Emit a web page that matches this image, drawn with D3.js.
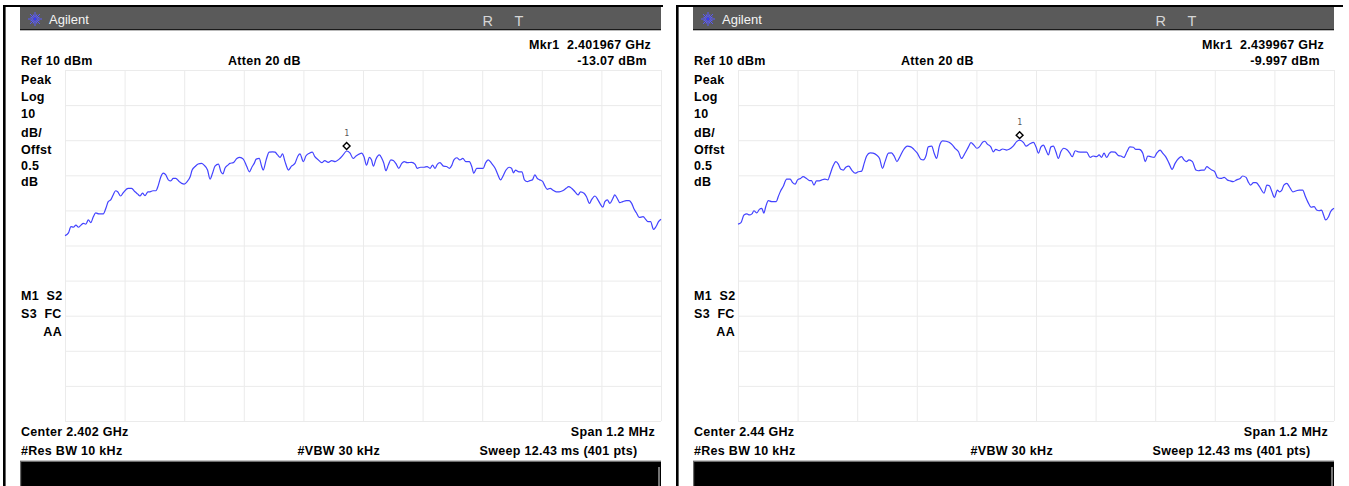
<!DOCTYPE html>
<html>
<head>
<meta charset="utf-8">
<script src="https://cdn.jsdelivr.net/npm/d3@7"></script>
<style>
  html, body { margin: 0; padding: 0; background: #fff; }
  svg { display: block; }
  text { font-family: "Liberation Sans", Arial, sans-serif; }
</style>
</head>
<body>
<svg id="chart" width="1349" height="486"></svg>
<script>
// ---- Analyzer settings for the two sweeps ----
const centerGHz = [2.402, 2.44];
const centerLabels = ["Center 2.402 GHz", "Center 2.44 GHz"];
const spanMHz = 1.2;
const refLevelDbm = 10;
const dbPerDiv = 10;
const divisions = 10;
const markerOffsetKHz = [-33, -33];
const markerLevelDbm = [-13.07, -9.997];
const markerFreqLabels = ["Mkr1\u00a0 2.401967 GHz", "Mkr1\u00a0 2.439967 GHz"];
const markerLevelLabels = ["-13.07 dBm", "-9.997 dBm"];
const leftLabels = ["Peak", "Log", "10", "dB/", "Offst", "0.5", "dB"];
const statusLabels = ["M1  S2", "S3  FC"];

// ---- Measured traces: [offset from center in kHz, level in dBm] ----
const traceLow = [
  [-600,-37.2],[-593,-36.4],[-588,-34.6],[-583,-34.8],[-578,-34.2],[-573,-34.8],[-568,-34.2],[-563,-33.7],
  [-558,-33.9],[-553,-32.7],[-548,-33.5],[-543,-31.8],[-538,-30.7],[-532,-31.0],[-523,-31.0],[-517,-29.1],
  [-513,-27.5],[-508,-27.0],[-503,-25.6],[-498,-24.4],[-494,-24.7],[-488,-25.9],[-483,-25.0],[-473,-23.7],
  [-466,-23.7],[-459,-24.7],[-454,-25.3],[-449,-25.9],[-444,-25.1],[-439,-25.8],[-433,-24.7],[-429,-24.7],
  [-423,-24.4],[-417,-24.4],[-412,-22.8],[-407,-20.4],[-402,-19.4],[-397,-19.9],[-392,-21.3],[-387,-21.6],
  [-382,-20.9],[-377,-20.9],[-370,-21.8],[-365,-22.3],[-360,-22.5],[-354,-21.8],[-348,-20.4],[-344,-18.5],
  [-338,-17.5],[-332,-16.8],[-325,-16.6],[-320,-17.1],[-313,-18.5],[-308,-21.1],[-303,-19.4],[-298,-17.4],
  [-291,-16.8],[-286,-19.0],[-282,-19.6],[-278,-18.0],[-272,-17.1],[-268,-16.6],[-261,-16.4],[-254,-15.2],
  [-248,-14.9],[-241,-15.4],[-234,-17.5],[-229,-19.0],[-223,-17.5],[-219,-16.6],[-215,-15.4],[-209,-15.2],
  [-204,-17.5],[-201,-18.5],[-195,-15.6],[-189,-13.4],[-182,-13.3],[-177,-13.4],[-172,-14.2],[-167,-14.9],
  [-162,-13.9],[-157,-16.1],[-150,-18.5],[-144,-17.4],[-137,-16.6],[-131,-14.5],[-127,-13.9],[-120,-16.1],
  [-115,-14.5],[-108,-13.7],[-102,-13.4],[-97,-14.7],[-90,-15.6],[-83,-16.4],[-77,-15.8],[-70,-16.3],
  [-63,-15.8],[-56,-16.1],[-48,-15.4],[-40,-14.2],[-33,-13.07],[-26,-13.7],[-20,-15.2],[-14,-14.5],
  [-7,-13.9],[-3,-13.7],[2,-14.7],[7,-17.1],[13,-14.9],[17,-15.6],[21,-17.4],[26,-15.4],
  [33,-14.2],[38,-15.2],[42,-16.6],[46,-18.7],[51,-17.1],[56,-15.6],[61,-15.8],[66,-16.6],
  [72,-18.0],[78,-16.6],[83,-16.1],[89,-16.4],[98,-16.3],[105,-16.9],[109,-18.0],[116,-17.7],
  [123,-17.7],[129,-17.5],[135,-18.0],[140,-17.1],[145,-18.0],[150,-16.8],[155,-16.4],[162,-17.4],
  [168,-17.5],[174,-18.0],[179,-17.1],[183,-15.6],[189,-15.0],[195,-15.6],[201,-15.2],[207,-16.1],
  [214,-16.1],[219,-17.5],[223,-19.4],[229,-18.0],[236,-18.0],[242,-18.0],[247,-16.4],[252,-15.6],
  [259,-16.6],[266,-18.0],[271,-19.6],[277,-21.3],[283,-19.9],[288,-18.5],[294,-17.7],[299,-18.0],
  [303,-19.3],[307,-18.5],[314,-19.0],[320,-19.0],[325,-21.3],[331,-21.8],[336,-21.5],[341,-21.3],
  [346,-19.9],[351,-20.9],[356,-21.3],[362,-21.8],[366,-23.0],[371,-24.0],[377,-23.7],[382,-24.2],
  [389,-24.7],[395,-24.7],[402,-24.4],[409,-23.7],[414,-23.2],[420,-23.7],[427,-24.7],[433,-25.6],
  [438,-24.7],[445,-25.1],[450,-26.1],[456,-28.0],[460,-27.0],[467,-25.9],[473,-27.0],[477,-28.0],
  [483,-29.1],[487,-27.5],[492,-27.0],[497,-28.0],[503,-26.6],[507,-25.6],[512,-26.6],[517,-27.8],
  [523,-27.5],[530,-27.2],[536,-27.2],[541,-28.0],[546,-29.7],[551,-30.8],[556,-32.0],[564,-31.8],
  [570,-32.7],[574,-33.2],[579,-33.2],[585,-35.4],[590,-34.6],[595,-33.2],[600,-32.5]
];

const traceHigh = [
  [-600,-33.9],[-594,-33.5],[-588,-31.3],[-582,-31.0],[-577,-31.3],[-572,-31.0],[-568,-30.1],[-562,-30.7],
  [-557,-29.7],[-552,-29.4],[-548,-30.8],[-544,-28.9],[-539,-27.2],[-532,-27.5],[-523,-27.5],[-519,-26.1],
  [-514,-24.4],[-509,-23.2],[-502,-21.1],[-495,-21.1],[-490,-22.1],[-485,-22.5],[-480,-21.3],[-474,-20.9],
  [-469,-20.4],[-462,-20.9],[-456,-21.5],[-452,-21.5],[-447,-22.8],[-442,-21.6],[-436,-21.6],[-431,-21.3],
  [-425,-21.1],[-419,-21.3],[-415,-19.9],[-409,-17.5],[-403,-16.1],[-398,-16.8],[-393,-18.3],[-388,-18.5],
  [-383,-17.7],[-377,-17.4],[-371,-18.5],[-364,-19.4],[-358,-19.0],[-351,-18.8],[-346,-16.6],[-341,-14.5],
  [-334,-13.6],[-328,-13.7],[-321,-14.2],[-315,-15.2],[-309,-18.0],[-304,-16.1],[-297,-13.7],[-291,-13.6],
  [-285,-14.7],[-280,-16.1],[-274,-14.7],[-267,-12.8],[-259,-11.7],[-252,-11.9],[-246,-12.6],[-239,-13.7],
  [-232,-15.4],[-227,-15.6],[-221,-14.2],[-217,-11.9],[-210,-11.7],[-205,-13.7],[-200,-15.2],[-195,-11.9],
  [-188,-10.2],[-181,-10.3],[-175,-10.6],[-168,-11.4],[-163,-12.3],[-156,-13.3],[-150,-15.2],[-143,-13.7],
  [-136,-11.9],[-131,-10.7],[-125,-11.4],[-119,-12.3],[-114,-11.9],[-107,-10.5],[-103,-10.3],[-98,-11.1],
  [-91,-11.9],[-86,-13.3],[-81,-12.6],[-74,-13.0],[-67,-12.5],[-59,-12.8],[-54,-12.6],[-46,-11.7],
  [-39,-10.4],[-33,-9.997],[-25,-10.7],[-20,-11.7],[-13,-11.1],[-5,-10.6],[0,-11.9],[5,-13.7],
  [10,-11.9],[15,-11.4],[20,-12.8],[25,-14.2],[30,-11.9],[35,-11.7],[40,-13.3],[45,-15.2],
  [50,-13.3],[56,-12.3],[63,-12.8],[68,-13.7],[73,-14.7],[79,-13.0],[85,-13.3],[94,-13.4],
  [102,-13.4],[109,-14.9],[115,-14.5],[122,-14.7],[127,-14.2],[132,-14.9],[137,-13.7],[142,-14.9],
  [148,-13.7],[152,-13.3],[159,-13.4],[166,-14.4],[171,-14.5],[177,-14.9],[183,-13.3],[189,-11.9],
  [196,-12.0],[201,-12.6],[208,-12.6],[215,-13.7],[220,-16.1],[225,-14.5],[231,-14.7],[238,-14.9],
  [243,-13.7],[250,-12.8],[255,-13.7],[261,-14.7],[268,-16.6],[274,-18.3],[280,-16.6],[287,-15.2],
  [293,-14.7],[298,-15.6],[303,-16.1],[308,-15.6],[315,-16.1],[322,-18.5],[327,-18.7],[334,-18.5],
  [339,-18.5],[344,-17.5],[349,-18.0],[354,-18.5],[360,-19.0],[365,-20.6],[372,-20.9],[379,-20.6],
  [385,-21.3],[391,-21.6],[397,-21.8],[404,-21.3],[411,-20.9],[416,-20.2],[423,-20.6],[427,-21.8],
  [432,-22.8],[438,-22.1],[443,-22.1],[450,-23.2],[454,-24.2],[459,-25.1],[465,-22.8],[470,-23.0],
  [475,-24.7],[480,-26.3],[486,-24.2],[490,-24.7],[495,-24.2],[499,-22.8],[505,-22.3],[510,-23.2],
  [517,-24.7],[524,-24.4],[530,-24.2],[537,-24.2],[542,-25.9],[547,-27.5],[554,-29.1],[560,-28.9],
  [565,-29.9],[570,-30.1],[575,-29.9],[579,-31.3],[583,-32.7],[589,-31.8],[593,-30.4],[600,-29.4]
];

const traces = [traceLow, traceHigh];

// ---- Layout ----
const svg = d3.select("#chart");
svg.append("rect").attr("width", 1349).attr("height", 486).attr("fill", "#fff");

const panelOffsets = [0, 673];
const frameRight = [663, 670];
const plot = { left: 65, right: 661, top: 70, bottom: 421 };
const boldText = { size: "12.5px", weight: "bold", spacing: "0.3px" };

function label(g, txt, x, y, anchor) {
  return g.append("text")
    .attr("x", x).attr("y", y)
    .attr("text-anchor", anchor || "start")
    .style("font-size", boldText.size)
    .style("font-weight", boldText.weight)
    .style("letter-spacing", boldText.spacing)
    .style("white-space", "pre")
    .attr("fill", "#000")
    .text(txt);
}

// starburst emblem in the title bar
function drawLogo(g, cx, cy) {
  const logo = g.append("g").attr("transform", `translate(${cx},${cy})`);
  d3.range(16).forEach(i => {
    const a = i * Math.PI / 8;
    const r = i % 2 ? 5 : 7;
    logo.append("line")
      .attr("x1", Math.cos(a) * 1.8).attr("y1", Math.sin(a) * 1.8)
      .attr("x2", Math.cos(a) * r).attr("y2", Math.sin(a) * r)
      .attr("stroke", "#5a5aff").attr("stroke-width", 1);
  });
  logo.append("circle").attr("r", 1.4).attr("fill", "#3838ff");
}

panelOffsets.forEach((ox, i) => {
  const g = svg.append("g").attr("transform", `translate(${ox},0)`);

  // instrument frame
  g.append("rect").attr("x", 3).attr("y", 5).attr("width", frameRight[i] - 3).attr("height", 2).attr("fill", "#000");
  g.append("rect").attr("x", 3).attr("y", 5).attr("width", 2.6).attr("height", 481).attr("fill", "#000");

  // title bar
  g.append("rect").attr("x", 20).attr("y", 7).attr("width", 641).attr("height", 23).attr("fill", "#5a5a5a");
  g.append("rect").attr("x", 20).attr("y", 29).attr("width", 641).attr("height", 1.3).attr("fill", "#1a1a1a");
  drawLogo(g, 35, 19);
  g.append("text").attr("x", 49).attr("y", 23.5)
    .style("font-size", "13px").attr("fill", "#f4f4f4").text("Agilent");
  g.append("text").attr("x", 482.5).attr("y", 26)
    .style("font-size", "14.5px").attr("fill", "#d6d6d6").text("R");
  g.append("text").attr("x", 514.5).attr("y", 26)
    .style("font-size", "14.5px").attr("fill", "#d6d6d6").text("T");

  // scales
  const c = centerGHz[i];
  const half = spanMHz / 2 / 1000;
  const x = d3.scaleLinear().domain([c - half, c + half]).range([plot.left, plot.right]);
  const y = d3.scaleLinear()
    .domain([refLevelDbm - dbPerDiv * divisions, refLevelDbm])
    .range([plot.bottom, plot.top]);

  // graticule
  const xTicks = d3.range(divisions + 1).map(k => c - half + k * (2 * half) / divisions);
  const yTicks = d3.range(divisions + 1).map(k => refLevelDbm - k * dbPerDiv);
  const gx = g.append("g").attr("transform", `translate(0,${plot.bottom})`)
    .call(d3.axisBottom(x).tickValues(xTicks).tickSize(-(plot.bottom - plot.top)).tickFormat(""));
  const gy = g.append("g").attr("transform", `translate(${plot.left},0)`)
    .call(d3.axisLeft(y).tickValues(yTicks).tickSize(-(plot.right - plot.left)).tickFormat(""));
  [gx, gy].forEach(a => {
    a.select(".domain").remove();
    a.selectAll("line").attr("stroke", "#ebebeb").attr("stroke-width", 1);
  });

  // trace
  const pts = traces[i].map(d => ({ f: c + d[0] / 1e6, v: d[1] }));
  const line = d3.line().x(d => x(d.f)).y(d => y(d.v)).curve(d3.curveMonotoneX);
  g.append("path").datum(pts)
    .attr("d", line)
    .attr("fill", "none")
    .attr("stroke", "#4343ff")
    .attr("stroke-width", 1.2)
    .attr("stroke-linejoin", "round");

  // marker 1
  const mf = c + markerOffsetKHz[i] / 1e6;
  const mx = x(mf), my = y(markerLevelDbm[i]);
  g.append("path")
    .attr("transform", `translate(${mx},${my - 5})`)
    .attr("d", d3.symbol().type(d3.symbolDiamond2).size(30)())
    .attr("fill", "#fff").attr("stroke", "#000").attr("stroke-width", 1.4);
  g.append("text").attr("x", mx).attr("y", my - 15).attr("text-anchor", "middle")
    .style("font-family", "'DejaVu Sans Mono', monospace")
    .style("font-size", "8px").attr("fill", "#555").text("1");

  // annotations
  label(g, markerFreqLabels[i], 529, 48.5);
  label(g, markerLevelLabels[i], 647, 65, "end");
  label(g, "Ref 10 dBm", 21, 65);
  label(g, "Atten 20 dB", 228, 65);
  const ys = [83.5, 101, 118, 137, 153.5, 169.5, 186];
  leftLabels.forEach((t, k) => label(g, t, 21, ys[k]));
  label(g, statusLabels[0], 21, 299.5);
  label(g, statusLabels[1], 21, 317.5);
  label(g, "AA", 62, 335.5, "end");
  label(g, centerLabels[i], 21, 435.5);
  label(g, "Span 1.2 MHz", 655, 435.5, "end");
  label(g, "#Res BW 10 kHz", 21, 454.5);
  label(g, "#VBW 30 kHz", 297.5, 454.5);
  label(g, "Sweep 12.43 ms (401 pts)", 637.5, 454.5, "end");

  // message bar
  g.append("rect").attr("x", 20).attr("y", 461).attr("width", 641).attr("height", 25).attr("fill", "#000");
  g.append("rect").attr("x", 20).attr("y", 460.5).attr("width", 641).attr("height", 1.3).attr("fill", "#8a8a8a");
  g.append("rect").attr("x", 20).attr("y", 461).attr("width", 1.2).attr("height", 25).attr("fill", "#6a6a6a");
  g.append("rect").attr("x", 658.5).attr("y", 467).attr("width", 1).attr("height", 19).attr("fill", "#e8e8e8");
});
</script>
</body>
</html>
